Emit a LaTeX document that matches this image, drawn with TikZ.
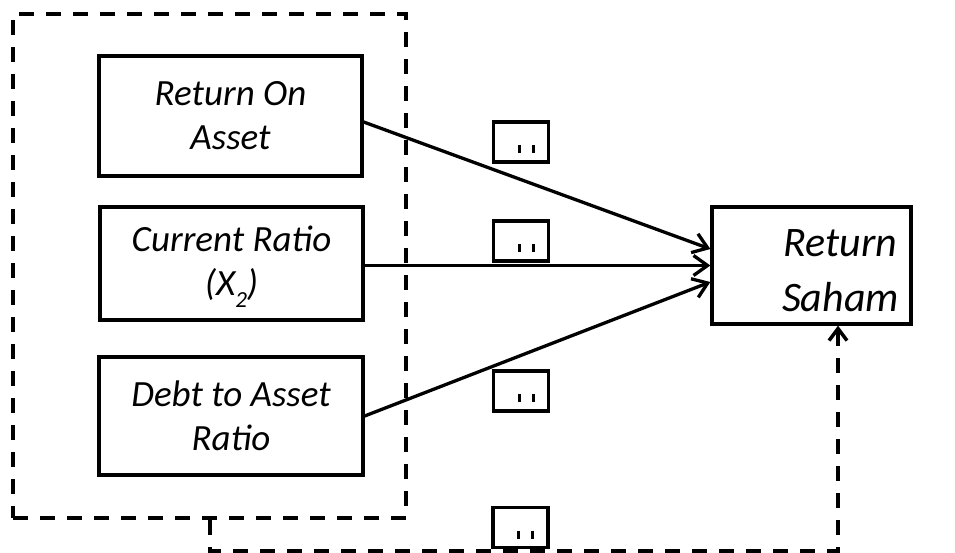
\documentclass[tikz,border=0pt]{standalone}
\usepackage{fontspec}
\setmainfont{Carlito}
\usetikzlibrary{arrows.meta,calc}
\begin{document}
\begin{tikzpicture}[x=1pt,y=-1pt,
  box/.style={draw, line width=3.3pt, align=center, inner sep=0pt,
    font=\fontsize{37}{44}\selectfont\itshape},
  plain/.style={align=center, inner sep=0pt},
  tag/.style={draw, line width=3.3pt, inner sep=0pt,
    minimum width=55pt, minimum height=40pt},
  bar/.style={line width=3pt},
  link/.style={line width=3.3pt, -{Straight Barb[length=14pt,width=20pt]}},
  frame/.style={draw, line width=3.5pt, dash pattern=on 15pt off 12pt, inner sep=0pt},
  feedback/.style={line width=3.5pt, dash pattern=on 15pt off 12pt,
    -{Straight Barb[length=12pt,width=18pt]}}
]
\useasboundingbox (0,0) rectangle (955,553);

% group frame around the three predictors
\node[frame, minimum width=393pt, minimum height=504pt] (grp) at (209.5,266) {};

% predictor boxes
\node[box, minimum width=263pt, minimum height=120pt] (roa) at (230.5,116) {Return On\\Asset};
\node[box, minimum width=263pt, minimum height=113pt] (cr) at (231.5,263.5)
  {Current Ratio\\(X\raisebox{-0.32em}[\height][0pt]{\fontsize{23}{23}\selectfont 2})};
\node[box, minimum width=264pt, minimum height=118pt] (dar) at (231,416) {Debt to Asset\\Ratio};

% outcome box, its text set a little right of centre
\node[draw, line width=3.3pt, inner sep=0pt,
  minimum width=199pt, minimum height=117pt] (rs) at (811.5,265.5) {};
\node[plain, font=\fontsize{42}{55}\selectfont\itshape] (rstext)
  at ($(rs.center)+(29,5)$) {Return\\Saham};

% small label boxes
\node[tag] (t1) at (521,142) {};
\node[tag] (t2) at (521,241) {};
\node[tag] (t3) at (521,391) {};
\node[tag] (t4) at (520.5,527.5) {};
\foreach \t in {t1,t2,t3,t4}{
  \draw[bar] ($(\t.center)+(-2,3)$) -- ($(\t.center)+(-2,11)$);
  \draw[bar] ($(\t.center)+(12,3)$) -- ($(\t.center)+(12,11)$);
}

% paths to the outcome
\draw[link] ([yshift=-6pt]roa.east) -- ([yshift=16.5pt]rs.west);
\draw[link] (cr.east |- rs.west) -- (rs.west);
\draw[link] (dar.east) -- ([yshift=-16.5pt]rs.west);

% joint effect of the group
\draw[feedback] ([xshift=0.5pt]grp.south) -- ++(0,31) -| ([xshift=26.5pt]rs.south);
\end{tikzpicture}
\end{document}
